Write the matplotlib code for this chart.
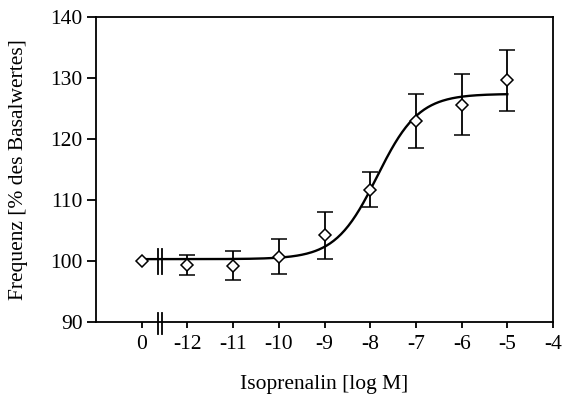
"""
Isoprenalin concentration-response curve (Frequenz, % des Basalwertes).
Run:  python plot.py  ->  writes out.png
"""

import numpy as np
import matplotlib.pyplot as plt

plt.rcParams["font.family"] = ["Liberation Serif", "DejaVu Serif"]

# --- data ------------------------------------------------------------------
log_conc = [-12, -11, -10, -9, -8, -7, -6, -5]
freq_mean = [99.3, 99.2, 100.7, 104.2, 111.7, 123.0, 125.6, 129.6]
freq_err = [1.6, 2.4, 2.9, 3.8, 2.9, 4.4, 5.0, 5.0]
basal_value = 100.0          # the "0" (no agonist) point

# sigmoid fit parameters (bottom, top, logEC50, hill)
fit_bottom = 100.3
fit_top = 127.4
fit_logec50 = -7.85
fit_hill = 0.95

x_ticks = [-13, -12, -11, -10, -9, -8, -7, -6, -5, -4]
x_ticklabels = ["0", "-12", "-11", "-10", "-9", "-8", "-7", "-6", "-5", "-4"]
y_ticks = [90, 100, 110, 120, 130, 140]

X_ZERO = -13     # where the "0" concentration sits on the axis
X_BREAK = -12.6  # position of the axis break marks

fig = plt.figure(figsize=(5.62, 3.96), dpi=100)
ax = fig.add_axes([0.171, 0.187, 0.813, 0.770])

# fitted curve
xs = np.linspace(X_ZERO, -5, 300)
ys = fit_bottom + (fit_top - fit_bottom) / (1 + 10 ** ((fit_logec50 - xs) * fit_hill))
ax.plot(xs, ys, color="black", lw=1.7, zorder=2)

# data points with error bars
ax.errorbar(log_conc, freq_mean, yerr=freq_err, fmt="D", ms=6.5,
            mfc="white", mec="black", mew=1.1, ecolor="black",
            elinewidth=1.3, capsize=6, capthick=1.3, zorder=3)
ax.plot([X_ZERO], [basal_value], "D", ms=6.5, mfc="white", mec="black",
        mew=1.1, zorder=3)

ax.set_xlim(-14, -4)
ax.set_ylim(90, 140)
ax.set_xticks(x_ticks)
ax.set_xticklabels(x_ticklabels)
ax.set_yticks(y_ticks)

for s in ax.spines.values():
    s.set_linewidth(1.3)
ax.tick_params(axis="y", direction="out", length=6.5, width=1.3,
               labelsize=15.5, pad=3)
ax.tick_params(axis="x", direction="out", length=4.5, width=1.3,
               labelsize=15.5, pad=5)

# axis break marks (double bars) on the x axis and on the curve
trans = ax.get_xaxis_transform()
for dx in (-0.04, 0.04):
    ax.plot([X_BREAK + dx] * 2, [-0.04, 0.03], color="black", lw=1.3,
            transform=trans, clip_on=False, zorder=4)
    ax.plot([X_BREAK + dx] * 2, [97.9, 102.0], color="black", lw=1.3,
            zorder=4)

ax.set_xlabel("Isoprenalin [log M]", fontsize=15.5, labelpad=15)
ax.set_ylabel("Frequenz [% des Basalwertes]", fontsize=15.5, labelpad=16)

fig.savefig("out.png", dpi=100)
